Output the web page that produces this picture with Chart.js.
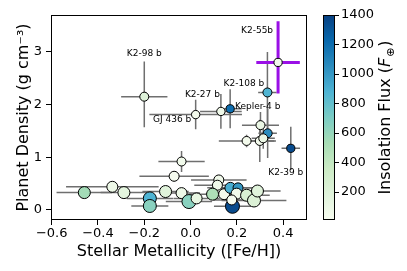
<!DOCTYPE html>
<html><head><meta charset="utf-8">
<script src="https://cdn.jsdelivr.net/npm/chart.js@4/dist/chart.umd.min.js"></script>
<style>html,body{margin:0;padding:0;background:#fff}</style>
</head><body>
<canvas id="c" width="407" height="271"></canvas>
<script>
// ---- data ----
const pointNames = ['K2-55b','K2-108 b','','K2-27 b','Kepler-4 b','GJ 436 b','K2-98 b','K2-39 b',
  '','','','','','','','','','','','','','','','','','','','','','','','','','',''];
const feh      = [0.378, 0.332, 0.333, 0.131, 0.171, 0.022, -0.200, 0.433,
  0.302, 0.242, 0.299, 0.314, -0.039, -0.071, 0.122, 0.116,
  -0.459, -0.338, -0.288, -0.176, -0.176, -0.108, -0.039, -0.007, 0.026,
  0.181, 0.095, 0.145, 0.172, 0.205, 0.199, 0.178, 0.242, 0.274, 0.289];
const fehErr   = [0.094, 0.04, 0.04, 0.09, 0.05, 0.20, 0.10, 0.04,
  0.08, 0.12, 0.07, 0.05, 0.10, 0.15, 0.12, 0.10,
  0.12, 0.20, 0.10, 0.10, 0.08, 0.10, 0.08, 0.10, 0.10,
  0.08, 0.10, 0.08, 0.10, 0.10, 0.10, 0.08, 0.10, 0.14, 0.10];
const density  = [2.80, 2.23, 1.455, 1.87, 1.92, 1.81, 2.15, 1.17,
  1.61, 1.31, 1.31, 1.36, 0.92, 0.64, 0.57, 0.47,
  0.33, 0.44, 0.33, 0.22, 0.076, 0.35, 0.32, 0.16, 0.22,
  0.07, 0.30, 0.30, 0.42, 0.42, 0.31, 0.19, 0.28, 0.18, 0.36];
const densErrLo = [0.59, 0.77, 0.47, 0.33, 0.37, 0.28, 0.58, 0.41,
  0.25, 0.12, 0.40, 0.20, 0.20, 0.10, 0.06, 0.06,
  0.05, 0.05, 0.05, 0.05, 0.05, 0.05, 0.05, 0.05, 0.05,
  0.05, 0.05, 0.05, 0.05, 0.05, 0.05, 0.05, 0.05, 0.05, 0.05];
const densErrHi = [0.78, 0.77, 0.47, 0.33, 0.37, 0.28, 0.67, 0.41,
  0.25, 0.12, 0.40, 0.20, 0.20, 0.10, 0.06, 0.06,
  0.05, 0.05, 0.05, 0.05, 0.05, 0.05, 0.05, 0.05, 0.05,
  0.05, 0.05, 0.05, 0.05, 0.05, 0.05, 0.05, 0.05, 0.05, 0.05];
const insolation = [50, 870, 1050, 60, 1200, 40, 200, 1350,
  100, 40, 40, 100, 50, 20, 60, 60,
  550, 80, 150, 880, 650, 180, 80, 650, 120,
  1350, 500, 40, 900, 1000, 50, 20, 250, 220, 180];
const planetRadius = [4.0, 5.0, 5.0, 4.2, 4.0, 4.2, 5.0, 4.0,
  5.0, 5.0, 5.0, 5.0, 5.0, 6.25, 6.25, 6.25,
  8.75, 7.5, 8.75, 10, 10, 8.75, 7.5, 11.25, 7.5,
  11.25, 8.75, 7.5, 7.5, 6.25, 7.5, 6.25, 8.75, 10, 8.75];
const xTicks = [-0.6, -0.4, -0.2, 0.0, 0.2, 0.4];
const yTicks = [0, 1, 2, 3];
const cbTicks = [200, 400, 600, 800, 1000, 1200, 1400];
const cbMin = 8, cbMax = 1400;

// ---- styling ----
const FONT = 'DejaVu Sans';
const GNBU = ['#f7fcf0','#e0f3db','#ccebc5','#a8ddb5','#7bccc4','#4eb3d3','#2b8cbe','#0868ac','#084081'];
function hex(h){return [parseInt(h.slice(1,3),16),parseInt(h.slice(3,5),16),parseInt(h.slice(5,7),16)];}
function cmap(v){
  let t=(v-cbMin)/(cbMax-cbMin); t=Math.max(0,Math.min(1,t));
  const p=t*8, i=Math.min(7,Math.floor(p)), f=p-i;
  const a=hex(GNBU[i]), b=hex(GNBU[i+1]);
  return 'rgb('+a.map((c,k)=>Math.round(c+(b[k]-c)*f)).join(',')+')';
}
const labelOffsets = {'K2-55b':[-21,-32],'K2-108 b':[-23.5,-8.5],'K2-27 b':[-18.5,-16.5],
  'Kepler-4 b':[27.5,-2.5],'GJ 436 b':[-23.5,5.5],'K2-98 b':[0,-43],'K2-39 b':[-5,24]};
const highlight = 'K2-55b';
const fmt = v => (Math.abs(v)<1e-9? '0.0' : v.toFixed(1)).replace('-', '\u2212');

const pts = feh.map((x,i)=>({x, y: density[i]}));

const errPlugin = {
  id:'err',
  beforeDatasetsDraw(chart){
    const {ctx, chartArea:a, scales:{x:xs,y:ys}} = chart;
    ctx.save();
    ctx.beginPath(); ctx.rect(a.left,a.top,a.right-a.left,a.bottom-a.top); ctx.clip();
    const draw = (i)=>{
      const px=xs.getPixelForValue(feh[i]), py=ys.getPixelForValue(density[i]);
      ctx.beginPath();
      ctx.moveTo(xs.getPixelForValue(feh[i]-fehErr[i]),py);
      ctx.lineTo(xs.getPixelForValue(feh[i]+fehErr[i]),py);
      ctx.moveTo(px,ys.getPixelForValue(density[i]-densErrLo[i]));
      ctx.lineTo(px,ys.getPixelForValue(density[i]+densErrHi[i]));
      ctx.stroke();
    };
    ctx.strokeStyle='#6f6f6f'; ctx.lineWidth=1.5;
    feh.forEach((_,i)=>{ if(pointNames[i]!==highlight) draw(i); });
    ctx.strokeStyle='#9a10e6'; ctx.lineWidth=3;
    feh.forEach((_,i)=>{ if(pointNames[i]===highlight) draw(i); });
    ctx.restore();
  },
  afterDraw(chart){
    const {ctx, chartArea:a, scales:{x:xs,y:ys}} = chart;
    ctx.save();
    // frame
    ctx.strokeStyle='#000'; ctx.lineWidth=1;
    ctx.strokeRect(a.left+0.5,a.top+0.5,a.right-a.left-1,a.bottom-a.top-1);
    // annotations
    ctx.fillStyle='#000'; ctx.font='9px "'+FONT+'"'; ctx.textAlign='center'; ctx.textBaseline='middle';
    pointNames.forEach((n,i)=>{
      if(!n) return;
      const o=labelOffsets[n];
      ctx.fillText(n, xs.getPixelForValue(feh[i])+o[0], ys.getPixelForValue(density[i])+o[1]);
    });
    // colorbar
    const cx0=323, cx1=335, cy0=a.top, cy1=a.bottom;
    const g=ctx.createLinearGradient(0,cy1,0,cy0);
    GNBU.forEach((c,k)=>g.addColorStop(k/8,c));
    ctx.fillStyle=g; ctx.fillRect(cx0,cy0,cx1-cx0,cy1-cy0);
    ctx.strokeStyle='#000'; ctx.lineWidth=1;
    ctx.strokeRect(cx0+0.5,cy0+0.5,cx1-cx0-1,cy1-cy0-1);
    ctx.font='13px "'+FONT+'"'; ctx.textAlign='left'; ctx.textBaseline='middle'; ctx.fillStyle='#000';
    cbTicks.forEach(v=>{
      const yy=cy1-(v-cbMin)/(cbMax-cbMin)*(cy1-cy0);
      ctx.beginPath(); ctx.moveTo(cx1,Math.round(yy)+0.5); ctx.lineTo(cx1+4,Math.round(yy)+0.5); ctx.stroke();
      ctx.fillText(String(v), cx1+6, yy);
    });
    // colorbar label
    ctx.translate(390,(cy0+cy1)/2); ctx.rotate(-Math.PI/2);
    ctx.textBaseline='alphabetic';
    const p1='Insolation Flux (', p2='F', p3='\u2295', p4=')';
    ctx.font='16px "'+FONT+'"'; const w1=ctx.measureText(p1).width, w4=ctx.measureText(p4).width;
    ctx.font='italic 16px "'+FONT+'"'; const w2=ctx.measureText(p2).width;
    ctx.font='11px "'+FONT+'"'; const w3=ctx.measureText(p3).width;
    let x0=-(w1+w2+w3+w4+2)/2;
    ctx.font='16px "'+FONT+'"'; ctx.fillText(p1,x0,0); x0+=w1;
    ctx.font='italic 16px "'+FONT+'"'; ctx.fillText(p2,x0,0); x0+=w2+1;
    ctx.font='11px "'+FONT+'"'; ctx.fillText(p3,x0,3.5); x0+=w3+1;
    ctx.font='16px "'+FONT+'"'; ctx.fillText(p4,x0,0);
    ctx.restore();
  }
};

new Chart(document.getElementById('c'), {
  type:'scatter',
  data:{datasets:[{
    data: pts,
    pointRadius: planetRadius.map(r=>2.5+0.4*r),
    pointHoverRadius: planetRadius.map(r=>2.5+0.4*r),
    pointBackgroundColor: insolation.map(cmap),
    pointBorderColor:'#000',
    pointBorderWidth:1
  }]},
  options:{
    responsive:false, animation:false, devicePixelRatio:1,
    layout:{padding:{top:15,right:100,left:0,bottom:0}},
    plugins:{legend:{display:false},tooltip:{enabled:false}},
    scales:{
      x:{type:'linear',min:-0.603,max:0.503,
        afterBuildTicks:s=>{s.ticks=xTicks.map(v=>({value:v}));},
        grid:{drawOnChartArea:false,drawTicks:true,tickLength:5,tickColor:'#000',color:'#000'},
        border:{display:false},
        ticks:{font:{family:FONT,size:13},color:'#000',padding:1,maxRotation:0,autoSkip:false,callback:v=>fmt(v)},
        title:{display:true,text:'Stellar Metallicity ([Fe/H])',color:'#000',font:{family:FONT,size:16},padding:{top:0,bottom:10}},
        afterFit:s=>{s.height=51;}
      },
      y:{type:'linear',min:-0.19,max:3.7,
        afterBuildTicks:s=>{s.ticks=yTicks.map(v=>({value:v}));},
        grid:{drawOnChartArea:false,drawTicks:true,tickLength:5,tickColor:'#000',color:'#000'},
        border:{display:false},
        ticks:{font:{family:FONT,size:13},color:'#000',padding:4,autoSkip:false,callback:v=>String(v)},
        title:{display:true,text:'Planet Density (g cm\u207B\u00B3)',color:'#000',font:{family:FONT,size:16},padding:{top:14,bottom:0}},
        afterFit:s=>{s.width=51;}
      }
    }
  },
  plugins:[errPlugin]
});
</script>
</body></html>
